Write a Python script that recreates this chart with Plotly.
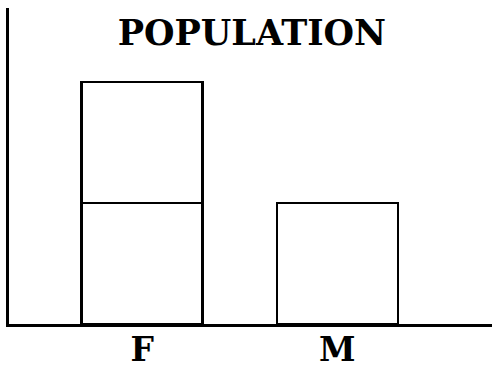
import plotly.graph_objects as go

# Data
sexes = ["F", "M"]
lower = [1, 1]
upper = [1, None]

fig = go.Figure()

for vals in (lower, upper):
    fig.add_trace(go.Bar(
        x=sexes,
        y=vals,
        width=0.62,
        marker=dict(color="white", line=dict(color="black", width=2.5)),
        showlegend=False,
    ))

fig.update_layout(
    width=492,
    height=370,
    barmode="stack",
    plot_bgcolor="white",
    paper_bgcolor="white",
    margin=dict(l=9, r=0, t=8, b=46, autoexpand=False),
    title=dict(
        text="<b>POPULATION</b>",
        x=0.512, xanchor="center",
        y=1 - 33 / 370, yanchor="middle", yref="container",
        font=dict(family="DejaVu Serif", size=35, color="black"),
    ),
    font=dict(family="DejaVu Serif", color="black"),
)

fig.update_xaxes(
    range=[-0.682, 1.792],
    showline=True, linecolor="black", linewidth=3,
    showgrid=False, ticks="", zeroline=False, automargin=False,
    tickfont=dict(size=33, family="DejaVu Serif", color="black"),
    ticktext=["<b>F</b>", "<b>M</b>"], tickvals=sexes,
    ticklabelstandoff=-6,
)
fig.update_yaxes(
    range=[0, 2.61],
    showline=True, linecolor="black", linewidth=3,
    showgrid=False, ticks="", zeroline=False, showticklabels=False,
)

fig.write_html("out.html", config={"displayModeBar": False},
               post_script="document.body.style.margin='0';")
